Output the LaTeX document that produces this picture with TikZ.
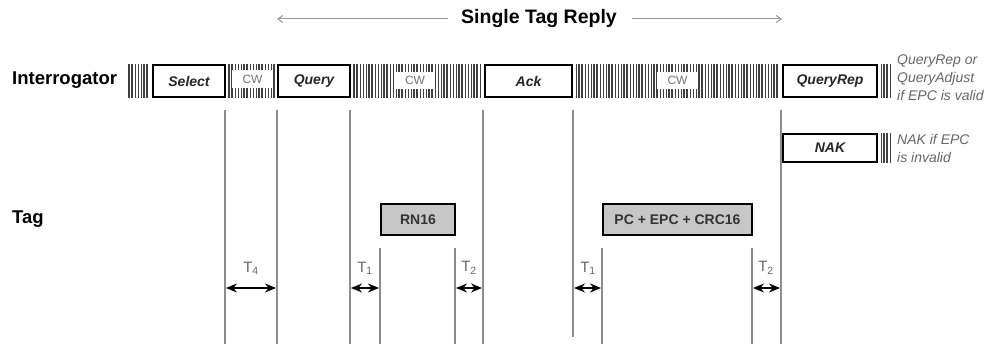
\documentclass[tikz,border=0pt]{standalone}
\usepackage{fontspec}
\setmainfont{Liberation Sans}
\usetikzlibrary{arrows.meta}
\newcommand\hatchrun[4]{%
  \pgfmathtruncatemacro\hsecond{#1+3}%
  \foreach \hx in {#1,\hsecond,...,#2}{%
    \pgfmathsetmacro\hw{0.45+0.22*mod(\hx*7,5)}%
    \draw[draw=black!75, line width=\hw pt] (\hx,#3) -- (\hx,#4);%
  }%
}
\begin{document}
\begin{tikzpicture}[x=1pt,y=-1pt,
  msg/.style={draw=black, line width=2pt, fill=white, inner sep=0pt, minimum height=32pt,
    font=\fontsize{14}{14}\selectfont\bfseries\itshape, text=black!85},
  tagmsg/.style={draw=black, line width=2pt, fill=black!22, inner sep=0pt, minimum height=31pt,
    font=\fontsize{14}{14}\selectfont\bfseries, text=black!80},
  cwbox/.style={fill=white, inner sep=0pt, font=\fontsize{12}{12}\selectfont, text=black!55},
  tline/.style={draw=black!45, line width=1.5pt},
  tarrow/.style={draw=black, line width=1.3pt, {Stealth[length=11pt,width=9pt]}-{Stealth[length=11pt,width=9pt]}},
  tlabel/.style={font=\fontsize{15}{15}\selectfont, text=black!60, inner sep=0pt},
  note/.style={font=\fontsize{14}{18}\selectfont\itshape, text=black!60, align=left, anchor=north west, inner sep=0pt},
  lbl/.style={font=\fontsize{18.5}{18.5}\selectfont\bfseries, anchor=west, inner sep=0pt},
  titlearrow/.style={draw=black!40, line width=1pt, -{Straight Barb[length=5pt,width=7pt]}}
]
\useasboundingbox (0,0) rectangle (1001,344);

% title
\node[font=\fontsize{19.5}{19.5}\selectfont\bfseries, inner sep=0pt] (title) at (539,19) {Single Tag Reply};
\coordinate (tl) at (277,19);
\coordinate (tr) at (782,19);
\draw[titlearrow] ([xshift=-13pt]title.west) -- (tl);
\draw[titlearrow] ([xshift=15pt]title.east) -- (tr);

% row labels
\node[lbl] (interr) at (12,80) {Interrogator};
\node[lbl] (tag) at (12,219) {Tag};

% hatched carrier
\hatchrun{129}{148}{64}{98}
\hatchrun{229}{274}{64}{98}
\hatchrun{354}{481}{64}{98}
\hatchrun{576}{779}{64}{98}
\hatchrun{881}{892}{64}{98}
\hatchrun{881}{892}{133}{163}

% CW boxes
\node[cwbox, minimum width=41pt, minimum height=18pt] (cw1) at (252.5,79) {CW};
\node[cwbox, minimum width=40pt, minimum height=17pt] (cw2) at (415,80.5) {CW};
\node[cwbox, minimum width=41pt, minimum height=17pt] (cw3) at (677.5,80.5) {CW};

% interrogator commands
\node[msg, minimum width=72pt] (select) at (189,81) {Select};
\node[msg, minimum width=72pt] (query) at (314,81) {Query};
\node[msg, minimum width=87pt] (ack) at (528.5,81) {Ack};
\node[msg, minimum width=94pt] (qrep) at (830,81) {QueryRep};
\node[msg, minimum width=94pt, minimum height=28pt] (nak) at (830,148) {NAK};

% notes
\node[note] (note1) at (897,55) {QueryRep or\\QueryAdjust\\if EPC is valid};
\node[note] (note2) at (897,134) {NAK if EPC\\is invalid};

% tag replies
\node[tagmsg, minimum width=74pt] (rn16) at (418,219.5) {RN16};
\node[tagmsg, minimum width=149pt] (epc) at (677.5,219.5) {PC + EPC + CRC16};

% timing lines
\coordinate (arow) at (0,288);
\coordinate (v1) at (225,110);
\coordinate (v2) at (277,110);
\coordinate (v3) at (350,110);
\coordinate (v4) at (483,110);
\coordinate (v5) at (573,110);
\coordinate (v6) at (781,110);
\coordinate (s1) at (380,248);
\coordinate (s2) at (455,248);
\coordinate (s3) at (602,248);
\coordinate (s4) at (752,248);
\coordinate (bot) at (0,344);
\coordinate (bot5) at (0,337);
\foreach \v in {v1,v2,v3,v4,v6,s1,s2,s3,s4}{
  \draw[tline] (\v) -- (\v |- bot);
}
\draw[tline] (v5) -- (v5 |- bot5);

% timing arrows
\draw[tarrow] ([xshift=1pt]v1 |- arow) -- ([xshift=-1pt]v2 |- arow);
\draw[tarrow] ([xshift=1pt]v3 |- arow) -- ([xshift=-1pt]s1 |- arow);
\draw[tarrow] ([xshift=1pt]s2 |- arow) -- ([xshift=-1pt]v4 |- arow);
\draw[tarrow] ([xshift=1pt]v5 |- arow) -- ([xshift=-1pt]s3 |- arow);
\draw[tarrow] ([xshift=1pt]s4 |- arow) -- ([xshift=-1pt]v6 |- arow);

\node[tlabel] (t4) at (251,268) {T\textsubscript{4}};
\node[tlabel] (t1a) at (365,268) {T\textsubscript{1}};
\node[tlabel] (t2a) at (469,268) {T\textsubscript{2}};
\node[tlabel] (t1b) at (588,268) {T\textsubscript{1}};
\node[tlabel] (t2b) at (766,268) {T\textsubscript{2}};
\end{tikzpicture}
\end{document}
